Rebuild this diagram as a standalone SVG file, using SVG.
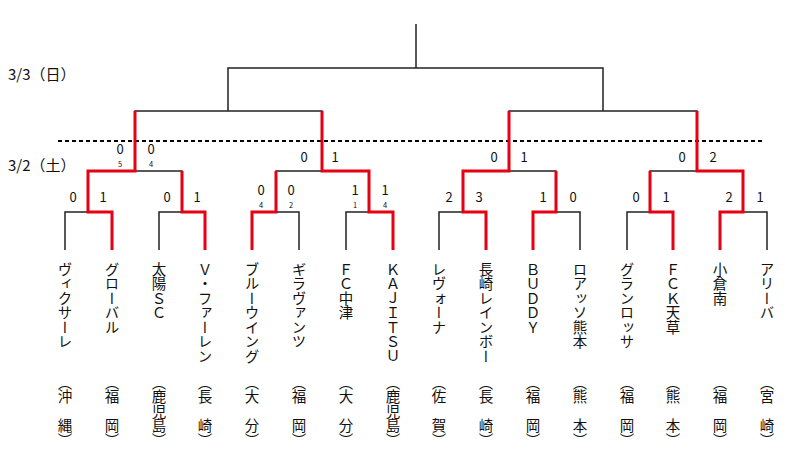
<svg xmlns="http://www.w3.org/2000/svg" width="800" height="457" viewBox="0 0 800 457">
<style>
.b{fill:none;stroke:#222;stroke-width:1.5}
.r{fill:none;stroke:#e60012;stroke-width:3;stroke-linejoin:miter}
.d{fill:none;stroke:#000;stroke-width:1.8;stroke-dasharray:4,3}
text{font-family:"Noto Sans CJK JP","Noto Sans",sans-serif;fill:#111}
.s{font-size:13px;text-anchor:middle}
.p{font-size:7.5px;text-anchor:middle}
.v{font-size:14.5px;writing-mode:vertical-rl;text-orientation:upright}
.dt{font-size:15px}
</style>
<rect width="800" height="457" fill="#fff"/>
<text class="dt" x="8" y="80">3/3（日）</text>
<text class="dt" x="8" y="171">3/2（土）</text>
<line class="d" x1="58" y1="141" x2="762" y2="141"/>
<g id="connectors">
<path class="b" d="M65 250V212H112V250M159 250V212H205V250M252 250V212H299V250M346 250V212H393V250M439 250V212H486V250M533 250V212H580V250M627 250V212H673V250M720 250V212H767V250"/>
<path class="b" d="M88 212V171H182V212M276 212V171H369V212M463 212V171H556V212M650 212V171H743V212"/>
<path class="b" d="M135 171V111H322V171M509 171V111H697V171M228 111V68H603V111M416 68V24"/>
<path class="r" d="M112 250V212H88V171H135V111"/>
<path class="r" d="M205 250V212H182V171"/>
<path class="r" d="M252 250V212H276V171"/>
<path class="r" d="M393 250V212H369V171H322V111"/>
<path class="r" d="M486 250V212H463V171H509V111"/>
<path class="r" d="M533 250V212H556V171"/>
<path class="r" d="M673 250V212H650V171"/>
<path class="r" d="M720 250V212H743V171H697V111"/>
</g>
<g id="scores">
<text class="s" x="73" y="202">0</text><text class="s" x="103" y="202">1</text>
<text class="s" x="167" y="202">0</text><text class="s" x="197" y="202">1</text>
<text class="s" x="261" y="195">0</text><text class="p" x="261" y="208">4</text>
<text class="s" x="291" y="195">0</text><text class="p" x="291" y="208">2</text>
<text class="s" x="355" y="195">1</text><text class="p" x="355" y="208">1</text>
<text class="s" x="385" y="195">1</text><text class="p" x="385" y="208">4</text>
<text class="s" x="449" y="202">2</text><text class="s" x="479" y="202">3</text>
<text class="s" x="543" y="202">1</text><text class="s" x="573" y="202">0</text>
<text class="s" x="636" y="202">0</text><text class="s" x="666" y="202">1</text>
<text class="s" x="729" y="202">2</text><text class="s" x="760" y="202">1</text>
<text class="s" x="120" y="154">0</text><text class="p" x="120" y="167">5</text>
<text class="s" x="151" y="154">0</text><text class="p" x="151" y="167">4</text>
<text class="s" x="304" y="162">0</text><text class="s" x="335" y="162">1</text>
<text class="s" x="494" y="162">0</text><text class="s" x="524" y="162">1</text>
<text class="s" x="682" y="162">0</text><text class="s" x="713" y="162">2</text>
</g>
<g id="t1"><text class="v" x="65" y="262">ヴィクサーレ</text><text class="v" x="65" y="375">（沖　縄）</text></g>
<g id="t2"><text class="v" x="112" y="262">グローバル</text><text class="v" x="112" y="375">（福　岡）</text></g>
<g id="t3"><text class="v" x="159" y="262">太陽ＳＣ</text><text class="v" x="159" y="375">（鹿児島）</text></g>
<g id="t4"><text class="v" x="205" y="262">Ｖ・ファーレン</text><text class="v" x="205" y="375">（長　崎）</text></g>
<g id="t5"><text class="v" x="252" y="262">ブルーウイング</text><text class="v" x="252" y="375">（大　分）</text></g>
<g id="t6"><text class="v" x="299" y="262">ギラヴァンツ</text><text class="v" x="299" y="375">（福　岡）</text></g>
<g id="t7"><text class="v" x="346" y="262">ＦＣ中津</text><text class="v" x="346" y="375">（大　分）</text></g>
<g id="t8"><text class="v" x="393" y="262">ＫＡＪＩＴＳＵ</text><text class="v" x="393" y="375">（鹿児島）</text></g>
<g id="t9"><text class="v" x="439" y="262">レヴォーナ</text><text class="v" x="439" y="375">（佐　賀）</text></g>
<g id="t10"><text class="v" x="486" y="262">長崎レインボー</text><text class="v" x="486" y="375">（長　崎）</text></g>
<g id="t11"><text class="v" x="533" y="262">ＢＵＤＤＹ</text><text class="v" x="533" y="375">（福　岡）</text></g>
<g id="t12"><text class="v" x="580" y="262">ロアッソ熊本</text><text class="v" x="580" y="375">（熊　本）</text></g>
<g id="t13"><text class="v" x="627" y="262">グランロッサ</text><text class="v" x="627" y="375">（福　岡）</text></g>
<g id="t14"><text class="v" x="673" y="262">ＦＣＫ天草</text><text class="v" x="673" y="375">（熊　本）</text></g>
<g id="t15"><text class="v" x="720" y="262">小倉南</text><text class="v" x="720" y="375">（福　岡）</text></g>
<g id="t16"><text class="v" x="767" y="262">アリーバ</text><text class="v" x="767" y="375">（宮　崎）</text></g>
</svg>
